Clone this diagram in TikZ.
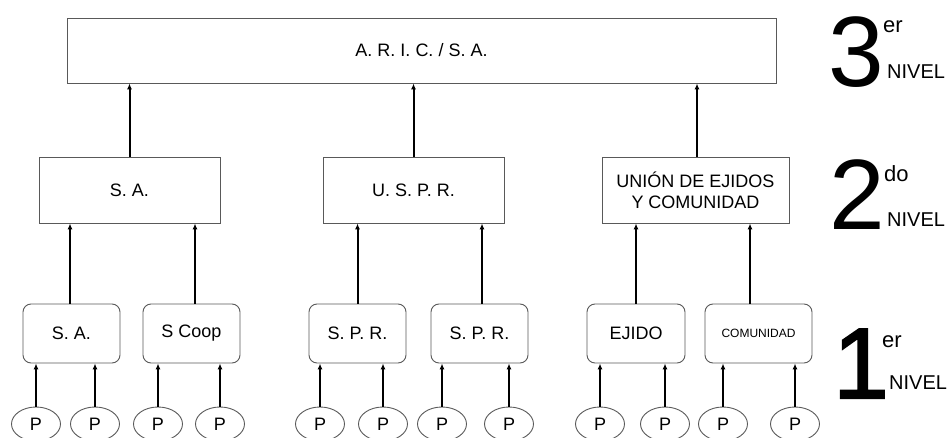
\documentclass[tikz,border=0pt]{standalone}
\usepackage{fontspec}
\setmainfont{Liberation Sans}
\newfontfamily\heavyone[FakeBold=2]{Liberation Sans}
\usetikzlibrary{arrows.meta,shapes.geometric}
\tikzset{
  sq/.style={draw=black!65, line width=0.9pt, rectangle, inner sep=0pt, align=center,
    font=\fontsize{18}{21}\selectfont},
  rd/.style={sq, rounded corners=8pt},
  pers/.style={draw=black!65, line width=0.9pt, ellipse, inner sep=0pt,
    minimum width=49pt, minimum height=34pt, font=\fontsize{18}{21}\selectfont},
  arr/.style={line width=2pt, -{Latex[length=6pt,width=5pt]}},
  big/.style={anchor=base west, inner sep=0pt, font=\fontsize{100}{100}\selectfont},
  sup/.style={anchor=base west, inner sep=0pt, font=\fontsize{22}{22}\selectfont},
  lvl/.style={anchor=base west, inner sep=0pt, font=\fontsize{20}{20}\selectfont},
}
\begin{document}
\begin{tikzpicture}[x=1pt,y=-1pt]
\useasboundingbox[fill=white] (0,0) rectangle (951,438);

% third level
\node[sq, minimum width=709pt, minimum height=65pt] (aric) at (421.5,50.5) {A. R. I. C. / S. A.};

% second level
\node[sq, minimum width=181pt, minimum height=66pt] (sa2) at (129.5,190) {S. A.};
\node[sq, minimum width=181pt, minimum height=66pt] (uspr) at (413.5,190) {U. S. P. R.};
\node[sq, minimum width=187pt, minimum height=66pt] (union) at (695.5,190) {UNIÓN DE EJIDOS\\Y COMUNIDAD};

% first level
\node[rd, minimum width=97pt, minimum height=59pt] (sa1) at (71.5,333.5) {S. A.};
\node[rd, minimum width=97pt, minimum height=59pt] (scoop) at (191.5,333.5) {S Coop};
\node[rd, minimum width=97pt, minimum height=59pt] (spra) at (357.5,333.5) {S. P. R.};
\node[rd, minimum width=97pt, minimum height=59pt] (sprb) at (479.5,333.5) {S. P. R.};
\node[rd, minimum width=98pt, minimum height=59pt] (ejido) at (636,333.5) {EJIDO};
\node[rd, minimum width=107pt, minimum height=59pt, font=\fontsize{12}{14}\selectfont] (comun) at (758.5,333.5) {COMUNIDAD};

% producers
\node[pers] (p1) at (36,424) {P};
\node[pers] (p2) at (95,424) {P};
\node[pers] (p3) at (158,424) {P};
\node[pers] (p4) at (220,424) {P};
\node[pers] (p5) at (320,424) {P};
\node[pers] (p6) at (383,424) {P};
\node[pers] (p7) at (442,424) {P};
\node[pers] (p8) at (509,424) {P};
\node[pers] (p9) at (600,424) {P};
\node[pers] (p10) at (665,424) {P};
\node[pers] (p11) at (723,424) {P};
\node[pers] (p12) at (795,424) {P};

% producers to first level
\foreach \p/\b in {p1/sa1,p2/sa1,p3/scoop,p4/scoop,p5/spra,p6/spra,p7/sprb,p8/sprb,
                   p9/ejido,p10/ejido,p11/comun,p12/comun}
  \draw[arr] (\p.north) -- (\p.north |- \b.south);

% first level to second level
\draw[arr] ([xshift=-1.5pt]sa1.north) -- ([xshift=-1.5pt]sa1.north |- sa2.south);
\draw[arr] ([xshift=3.5pt]scoop.north) -- ([xshift=3.5pt]scoop.north |- sa2.south);
\draw[arr] (spra.north) -- (spra.north |- uspr.south);
\draw[arr] ([xshift=2.5pt]sprb.north) -- ([xshift=2.5pt]sprb.north |- uspr.south);
\draw[arr] (ejido.north) -- (ejido.north |- union.south);
\draw[arr] ([xshift=-8.5pt]comun.north) -- ([xshift=-8.5pt]comun.north |- union.south);

% second level to third level
\draw[arr] (sa2.north) -- (sa2.north |- aric.south);
\draw[arr] (uspr.north) -- (uspr.north |- aric.south);
\draw[arr] ([xshift=1.5pt]union.north) -- ([xshift=1.5pt]union.north |- aric.south);

% level captions
\node[big] (n3) at (828,87) {3};
\node[sup] (e3) at (883,33) {er};
\node[lvl] (v3) at (887,79) {NIVEL};

\node[big] (n2) at (829,230) {2};
\node[sup] (e2) at (884,182) {do};
\node[lvl] (v2) at (887,227) {NIVEL};

\node[big, font=\fontsize{100}{100}\heavyone] (n1) at (833,398) {\makebox[42pt][l]{1}};
\node[sup] (e1) at (882,348) {er};
\node[lvl] (v1) at (889,390) {NIVEL};
\end{tikzpicture}
\end{document}
